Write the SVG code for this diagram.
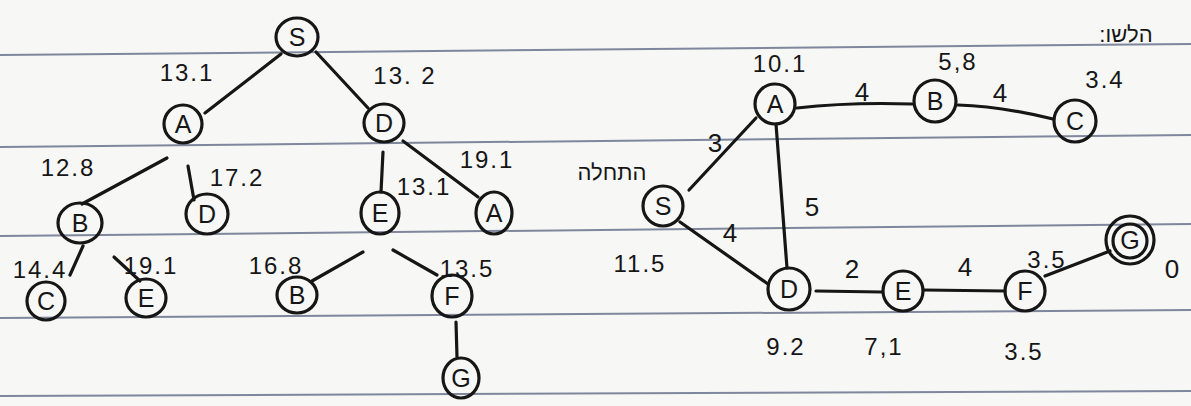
<svg xmlns="http://www.w3.org/2000/svg" width="1191" height="406" viewBox="0 0 1191 406">
<style>
.ink{stroke:#161616;fill:none;stroke-width:3.2;stroke-linecap:round}
.n circle,.n ellipse{fill:none;stroke:#161616;stroke-width:3.2}
.n text{font-family:"Liberation Sans",sans-serif;font-size:25px;text-anchor:middle;dominant-baseline:central;fill:#161616}
.l{font-family:"Liberation Sans",sans-serif;font-size:24px;letter-spacing:2px;fill:#161616;text-anchor:middle}
.w{font-family:"Liberation Sans",sans-serif;font-size:26px;fill:#161616;text-anchor:middle}
.h{font-family:"Liberation Sans","Noto Sans",sans-serif;font-size:22px;fill:#161616;text-anchor:middle;direction:rtl}
.rule{stroke:#56627e;stroke-width:2;opacity:.75}
</style>
<rect width="1191" height="406" fill="#f7f7f6"/>
<g id="paper-lines">
<line class="rule" x1="0" y1="55" x2="1191" y2="44"/>
<line class="rule" x1="0" y1="147" x2="1191" y2="135"/>
<line class="rule" x1="0" y1="236" x2="1191" y2="224"/>
<line class="rule" x1="0" y1="318" x2="1191" y2="310"/>
<line class="rule" x1="0" y1="396" x2="1191" y2="391"/>
</g>
<g id="connectors">
<line class="ink" x1="281" y1="54" x2="205" y2="113"/>
<line class="ink" x1="316" y1="52" x2="368" y2="108"/>
<line class="ink" x1="167" y1="158" x2="82" y2="204"/>
<line class="ink" x1="188" y1="166" x2="194" y2="200"/>
<line class="ink" x1="383" y1="152" x2="381" y2="192"/>
<line class="ink" x1="403" y1="141" x2="478" y2="197"/>
<line class="ink" x1="83" y1="246" x2="70" y2="275"/>
<line class="ink" x1="114" y1="257" x2="140" y2="281"/>
<line class="ink" x1="363" y1="252" x2="312" y2="281"/>
<line class="ink" x1="393" y1="250" x2="437" y2="275"/>
<line class="ink" x1="456" y1="322" x2="457" y2="357"/>
<path class="ink" d="M797 108 Q850 102 912 104"/>
<path class="ink" d="M958 105 Q1000 106 1053 119"/>
<line class="ink" x1="689" y1="190" x2="756" y2="118"/>
<line class="ink" x1="776" y1="124" x2="787" y2="268"/>
<line class="ink" x1="680" y1="222" x2="768" y2="284"/>
<line class="ink" x1="816" y1="291" x2="882" y2="292"/>
<line class="ink" x1="924" y1="290" x2="1005" y2="291"/>
<line class="ink" x1="1045" y1="276" x2="1110" y2="251"/>
</g>
<g id="tree-S" class="n"><ellipse cx="297" cy="37" rx="21" ry="19"/><text x="297" y="37">S</text></g>
<g id="tree-A" class="n"><ellipse cx="183" cy="124" rx="19" ry="19"/><text x="183" y="124">A</text></g>
<g id="tree-D" class="n"><ellipse cx="384" cy="123" rx="20" ry="19"/><text x="384" y="123">D</text></g>
<g id="tree-B1" class="n"><ellipse cx="80" cy="223" rx="22" ry="20"/><text x="80" y="223">B</text></g>
<g id="tree-D2" class="n"><ellipse cx="207" cy="214" rx="21" ry="20"/><text x="207" y="214">D</text></g>
<g id="tree-E1" class="n"><ellipse cx="380" cy="213" rx="19" ry="21"/><text x="380" y="213">E</text></g>
<g id="tree-A2" class="n"><ellipse cx="494" cy="213" rx="18" ry="21"/><text x="494" y="213">A</text></g>
<g id="tree-C" class="n"><ellipse cx="46" cy="301" rx="19" ry="19"/><text x="46" y="301">C</text></g>
<g id="tree-E2" class="n"><ellipse cx="146" cy="298" rx="20" ry="19"/><text x="146" y="298">E</text></g>
<g id="tree-B2" class="n"><ellipse cx="297" cy="295" rx="20" ry="18"/><text x="297" y="295">B</text></g>
<g id="tree-F" class="n"><ellipse cx="452" cy="296" rx="20" ry="21"/><text x="452" y="296">F</text></g>
<g id="tree-G" class="n"><ellipse cx="461" cy="378" rx="18" ry="20"/><text x="461" y="378">G</text></g>
<g id="tree-labels">
<text class="l" x="187" y="81">13.1</text>
<text class="l" x="405" y="84">13. 2</text>
<text class="l" x="68" y="176">12.8</text>
<text class="l" x="237" y="186">17.2</text>
<text class="l" x="487" y="168">19.1</text>
<text class="l" x="424" y="195">13.1</text>
<text class="l" x="40" y="278">14.4</text>
<text class="l" x="151" y="274">19.1</text>
<text class="l" x="276" y="274">16.8</text>
<text class="l" x="467" y="277">13.5</text>
</g>
<g id="g-S" class="n"><circle cx="663" cy="206" r="20"/><text x="663" y="206">S</text></g>
<g id="g-A" class="n"><circle cx="775" cy="104" r="20"/><text x="775" y="104">A</text></g>
<g id="g-B" class="n"><circle cx="935" cy="101" r="21"/><text x="935" y="101">B</text></g>
<g id="g-C" class="n"><circle cx="1075" cy="121" r="21"/><text x="1075" y="121">C</text></g>
<g id="g-D" class="n"><circle cx="789" cy="289" r="21"/><text x="789" y="289">D</text></g>
<g id="g-E" class="n"><circle cx="903" cy="291" r="20"/><text x="903" y="291">E</text></g>
<g id="g-F" class="n"><circle cx="1025" cy="291" r="20"/><text x="1025" y="291">F</text></g>
<g id="g-G" class="n"><circle cx="1130" cy="241" r="17"/><circle cx="1130" cy="240" r="24"/><text x="1130" y="240">G</text></g>
<g id="graph-labels">
<text class="l" x="780" y="72">10.1</text>
<text class="l" x="958" y="70">5,8</text>
<text class="l" x="1105" y="88">3.4</text>
<text class="w" x="862" y="101">4</text>
<text class="w" x="1000" y="102">4</text>
<text class="w" x="715" y="152">3</text>
<text class="w" x="812" y="216">5</text>
<text class="w" x="730" y="242">4</text>
<text class="l" x="640" y="272">11.5</text>
<text class="w" x="852" y="278">2</text>
<text class="w" x="965" y="276">4</text>
<text class="l" x="1047" y="268">3.5</text>
<text class="w" x="1172" y="278">0</text>
<text class="l" x="786" y="355">9.2</text>
<text class="l" x="884" y="355">7,1</text>
<text class="l" x="1024" y="360">3.5</text>
<text class="h" x="612" y="180">התחלה</text>
<text class="h" x="1126" y="42" font-size="26">הלשו:</text>
</g>
</svg>
